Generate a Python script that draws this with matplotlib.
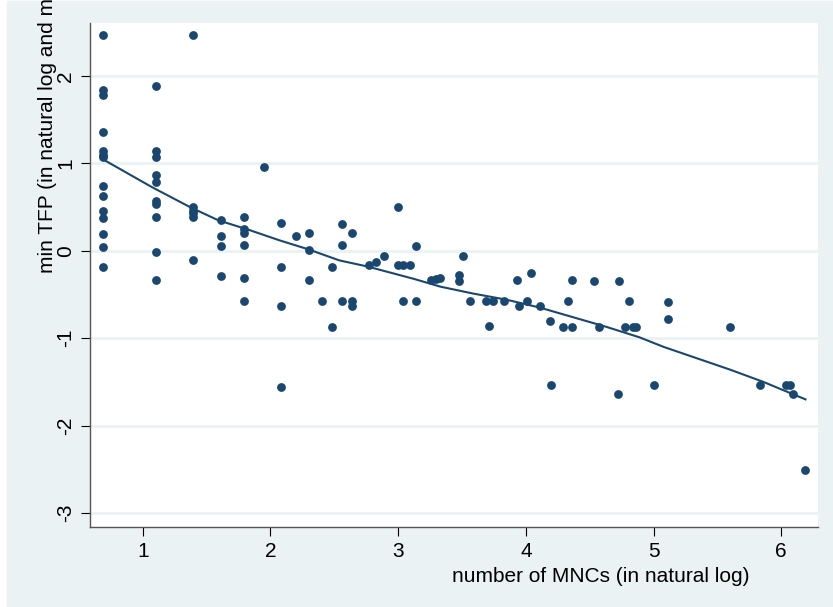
import matplotlib
matplotlib.use('Agg')
from matplotlib import pyplot as plt
from matplotlib.patches import Rectangle

# scatter data: number of MNCs (ln) vs min TFP (ln)
mnc = [0.69, 0.69, 0.69, 0.69, 0.69, 0.69, 0.69, 0.69, 0.69, 0.69, 0.69, 0.69, 0.69, 0.69,
       1.10, 1.10, 1.10, 1.10, 1.10, 1.10, 1.10, 1.10, 1.10, 1.10,
       1.39, 1.39, 1.39, 1.39, 1.39, 1.39,
       1.61, 1.61, 1.61, 1.61,
       1.79, 1.79, 1.79, 1.79, 1.79, 1.79,
       1.95,
       2.08, 2.08, 2.08, 2.08,
       2.20,
       2.30, 2.30, 2.30,
       2.40,
       2.48, 2.48,
       2.56, 2.56, 2.56,
       2.64, 2.64, 2.64,
       2.77, 2.83, 2.89,
       3.00, 3.00,
       3.04, 3.04,
       3.09,
       3.14, 3.14,
       3.26, 3.30, 3.33,
       3.48, 3.48, 3.51,
       3.56, 3.69, 3.71, 3.74, 3.83, 3.93, 3.95, 4.01, 4.04, 4.11, 4.19, 4.20,
       4.29, 4.33, 4.36, 4.36, 4.53, 4.57, 4.72, 4.73, 4.78, 4.81, 4.84, 4.86,
       5.00, 5.11, 5.11, 5.60, 5.83, 6.04, 6.07, 6.09, 6.19]
tfp = [2.47, 1.84, 1.78, 1.36, 1.14, 1.10, 1.07, 0.74, 0.63, 0.46, 0.38, 0.19, 0.04, -0.19,
       1.88, 1.14, 1.07, 0.87, 0.79, 0.57, 0.53, 0.39, -0.01, -0.33,
       2.47, 0.50, 0.46, 0.43, 0.39, -0.11,
       0.35, 0.17, 0.06, -0.29,
       0.39, 0.25, 0.20, 0.07, -0.31, -0.58,
       0.96,
       0.32, -0.18, -0.63, -1.56,
       0.17,
       0.20, 0.01, -0.33,
       -0.58,
       -0.18, -0.87,
       0.31, 0.07, -0.58,
       0.20, -0.58, -0.63,
       -0.16, -0.13, -0.06,
       0.50, -0.16,
       -0.16, -0.58,
       -0.16,
       0.06, -0.58,
       -0.33, -0.32, -0.31,
       -0.28, -0.34, -0.06,
       -0.58, -0.58, -0.86, -0.58, -0.58, -0.33, -0.63, -0.58, -0.25, -0.63, -0.80, -1.54,
       -0.87, -0.58, -0.33, -0.87, -0.35, -0.87, -1.64, -0.35, -0.87, -0.58, -0.87, -0.87,
       -1.54, -0.59, -0.78, -0.87, -1.54, -1.54, -1.54, -1.64, -2.51]

# lowess fit as drawn
fit_x = [0.69, 1.07, 1.37, 1.59, 1.84, 2.07, 2.29, 2.54, 2.76, 3.12, 3.33, 3.59, 3.85,
         4.11, 4.37, 4.63, 4.89, 5.08, 5.34, 5.60, 5.86, 6.19]
fit_y = [1.045, 0.73, 0.50, 0.35, 0.235, 0.12, 0.02, -0.11, -0.18, -0.32, -0.41, -0.49, -0.56,
         -0.65, -0.76, -0.87, -0.99, -1.10, -1.23, -1.36, -1.50, -1.70]

xticks = [1, 2, 3, 4, 5, 6]
yticks = [-3, -2, -1, 0, 1, 2]

navy = '#1a476f'
bg = '#eaf2f3'

plt.rcParams['font.family'] = ['Liberation Sans', 'DejaVu Sans']

fig = plt.figure(figsize=(8.33, 6.07), dpi=100, facecolor='white')
fig.patches.append(Rectangle((7 / 833, 1 / 607), 826 / 833, 605 / 607,
                             transform=fig.transFigure, color=bg, zorder=-5))
ax = fig.add_axes([90 / 833, 1 - 527 / 607, 728 / 833, 504 / 607])
ax.set_zorder(2)
ax.set_facecolor('white')

ax.scatter(mnc, tfp, s=40, color=navy, zorder=3, linewidths=0)
ax.plot(fit_x, fit_y, color=navy, lw=1.5, zorder=4)

ax.set_xlim(0.587, 6.288)
ax.set_ylim(-3.160, 2.606)
ax.set_xticks(xticks)
ax.set_yticks(yticks)
ax.set_yticklabels([str(t) for t in yticks], rotation=90, va='center')
ax.grid(axis='y', color=bg, lw=2, zorder=1)
ax.set_axisbelow(True)

for s in ['top', 'right']:
    ax.spines[s].set_visible(False)
for s in ['left', 'bottom']:
    ax.spines[s].set_color('#555555')
    ax.spines[s].set_linewidth(1.0)
ax.tick_params(direction='out', length=6.5, width=0.8, color='black',
               labelsize=15, pad=4)

# y title runs off the top edge, as in the original export
fig.text(48 / 833, 1 - 273 / 607, 'min TFP (in natural log and m', rotation=90,
         ha='center', va='bottom', fontsize=15)
fig.text(601 / 833, 1 - 577 / 607, 'number of MNCs (in natural log)',
         ha='center', va='center', fontsize=15)

fig.savefig('out.png', dpi=100, facecolor=fig.get_facecolor())
